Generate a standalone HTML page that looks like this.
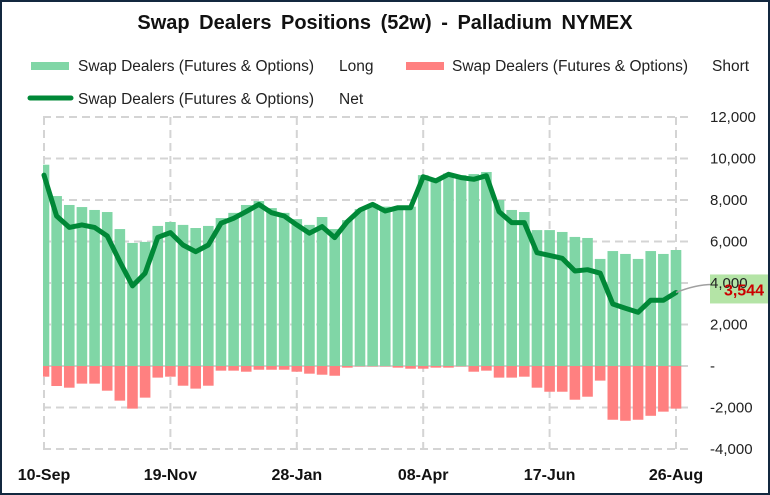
<!DOCTYPE html>
<html><head><meta charset="utf-8">
<style>
html,body{margin:0;padding:0;background:#fff;}
#wrap{position:relative;width:770px;height:495px;box-sizing:border-box;border:2px solid #13283f;background:#fff;overflow:hidden;font-family:"Liberation Sans",sans-serif;}
svg text{font-family:"Liberation Sans",sans-serif;}
</style></head>
<body>
<div id="wrap">
<svg id="chart" width="766" height="491" viewBox="2 2 766 491" xmlns="http://www.w3.org/2000/svg">
<text x="385" y="29" text-anchor="middle" font-size="20" font-weight="bold" fill="#111" word-spacing="4">Swap Dealers Positions (52w) - Palladium NYMEX</text>
<g>
 <g>
  <rect x="31" y="62" width="38" height="8" fill="#80d6a6"></rect>
  <text x="78" y="71" font-size="15.5" fill="#222">Swap Dealers (Futures &amp; Options)</text>
  <text x="339" y="71" font-size="15.5" fill="#222">Long</text>
 </g>
 <g>
  <rect x="406" y="62" width="38" height="8" fill="#ff8080"></rect>
  <text x="452" y="71" font-size="15.5" fill="#222">Swap Dealers (Futures &amp; Options)</text>
  <text x="712" y="71" font-size="15.5" fill="#222">Short</text>
 </g>
 <g>
  <line x1="30" y1="98" x2="71" y2="98" stroke="#008837" stroke-width="5" stroke-linecap="round"></line>
  <text x="78" y="104" font-size="15.5" fill="#222">Swap Dealers (Futures &amp; Options)</text>
  <text x="339" y="104" font-size="15.5" fill="#222">Net</text>
 </g>
</g>
<g id="grid"></g>
<g id="bars"></g>
<g id="line"></g>
<g id="yaxis"></g>
<g id="xaxis"></g>
</svg>
</div>
<script>
const longVals=[9700,8190,7760,7660,7520,7420,6600,5930,5980,6750,6940,6800,6650,6750,7130,7380,7760,7950,7610,7380,7080,6800,7180,6600,7030,7560,7810,7680,7570,7680,9200,9040,9280,9200,9250,9350,8000,7520,7420,6550,6550,6460,6220,6170,5160,5540,5400,5160,5540,5400,5590];
const shortVals=[-515,-964,-1045,-850,-850,-1190,-1670,-2055,-1525,-560,-515,-950,-1090,-950,-225,-225,-275,-180,-180,-180,-275,-370,-420,-470,-80,-20,-20,-20,-80,-130,-130,-80,-80,-20,-275,-225,-560,-560,-515,-1045,-1240,-1240,-1625,-1480,-705,-2590,-2640,-2590,-2400,-2200,-2055];
const netVals=[9200,7230,6680,6800,6680,6270,5030,3860,4470,6200,6430,5830,5510,5830,6880,7120,7440,7790,7390,7230,6800,6400,6720,6190,6960,7520,7790,7470,7630,7630,9120,8920,9240,9080,9000,9170,7440,6910,6910,5460,5330,5190,4580,4640,4470,2990,2780,2590,3170,3170,3544];
const yTicks=[12000,10000,8000,6000,4000,2000,0,-2000,-4000];
const yTickLabels=["12,000","10,000","8,000","6,000","4,000","2,000","-","-2,000","-4,000"];
const xLabelIdx=[0,10,20,30,40,50];
const xLabels=["10-Sep","19-Nov","28-Jan","08-Apr","17-Jun","26-Aug"];
const lastLabel="3,544";

const NS="http://www.w3.org/2000/svg";
const x0=44, step=12.64, plotL=43, plotR=688;
const yTop=117, yBot=449, vMax=12000, vMin=-4000;
function xs(i){return x0+i*step;}
function ys(v){return yTop+(vMax-v)/(vMax-vMin)*(yBot-yTop);}
function mk(tag,attrs,parent){const e=document.createElementNS(NS,tag);for(const k in attrs)e.setAttribute(k,attrs[k]);parent.appendChild(e);return e;}

const grid=document.getElementById('grid');
yTicks.forEach((t,k)=>{
  if(t===0) return;
  const l=mk('line',{x1:plotL,x2:plotR,y1:ys(t),y2:ys(t),stroke:'#d4d4d4','stroke-width':2,'stroke-dasharray':'8,5'},grid);
  
  
});
xLabelIdx.forEach(i=>{
  const l=mk('line',{x1:xs(i),x2:xs(i),y1:yTop,y2:yBot,stroke:'#d4d4d4','stroke-width':2,'stroke-dasharray':'8,5'},grid);
  
  
});
const bars=document.getElementById('bars');
const bw=10.6;
longVals.forEach((v,i)=>{
  let x=xs(i)-bw/2, w=bw;
  if(x<plotL){w-= (plotL-x); x=plotL;}
  const r=mk('rect',{x:x,y:ys(v),width:w,height:ys(0)-ys(v),fill:'#80d6a6'},bars);
  
  
});
shortVals.forEach((v,i)=>{
  let x=xs(i)-bw/2, w=bw;
  if(x<plotL){w-= (plotL-x); x=plotL;}
  const r=mk('rect',{x:x,y:ys(0),width:w,height:ys(v)-ys(0),fill:'#ff8080'},bars);
  
  
});
const zl=mk('line',{x1:plotL,x2:plotR,y1:ys(0),y2:ys(0),stroke:'#d4d4d4','stroke-width':2},grid);



const lg=document.getElementById('line');
const pts=netVals.map((v,i)=>xs(i).toFixed(1)+','+ys(v).toFixed(1)).join(' ');
const pl=mk('polyline',{points:pts,fill:'none',stroke:'#008837','stroke-width':5,'stroke-linejoin':'round','stroke-linecap':'round'},lg);



const ya=document.getElementById('yaxis');
yTicks.forEach((t,k)=>{
  const tx=mk('text',{x:710,y:ys(t)+5,'font-size':15,fill:'#222'},ya);
  tx.textContent=yTickLabels[k];
  
  
});
const lastI=netVals.length-1, lastY=ys(netVals[lastI]);
const lead=mk('path',{d:`M${xs(lastI)} ${lastY} Q${xs(lastI)+20} ${lastY-8} ${712} ${lastY-8}`,fill:'none',stroke:'#a0a0a0','stroke-width':1.5},ya);


const box=mk('rect',{x:710,y:lastY-18,width:60,height:29,fill:'#b4e4a6'},ya);


const t4=mk('text',{x:710,y:ys(4000)+5,'font-size':15,fill:'#222'},ya);
t4.textContent="4,000";


const lv=mk('text',{x:764,y:lastY+3,'font-size':16,'font-weight':'bold',fill:'#cc0000','text-anchor':'end'},ya);
lv.textContent=lastLabel;



const xa=document.getElementById('xaxis');
xLabelIdx.forEach((i,k)=>{
  const tx=mk('text',{x:xs(i),y:480,'font-size':16,'font-weight':'bold',fill:'#111','text-anchor':'middle'},xa);
  tx.textContent=xLabels[k];
  
  
});
</script>
</body></html>
